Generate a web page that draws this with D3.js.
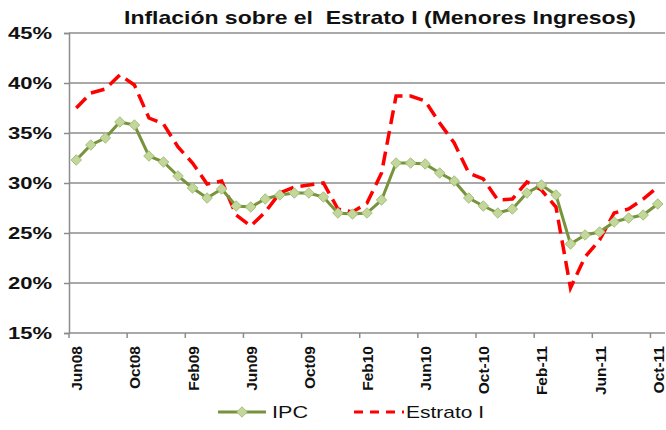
<!DOCTYPE html>
<html>
<head>
<meta charset="utf-8">
<script src="https://cdn.jsdelivr.net/npm/d3@7"></script>
<style>
  body { margin: 0; background: #fff; }
  text { font-family: "Liberation Sans", Arial, sans-serif; }
</style>
</head>
<body>
<svg id="chart" width="666" height="430"></svg>
<script>
// monthly categories Jun08 .. Oct11
const months = [
  "Jun08","Jul08","Aug08","Sep08","Oct08","Nov08","Dec08","Jan09","Feb09","Mar09","Apr09","May09",
  "Jun09","Jul09","Aug09","Sep09","Oct09","Nov09","Dec09","Jan10","Feb10","Mar10","Apr10","May10",
  "Jun10","Jul10","Aug10","Sep10","Oct-10","Nov-10","Dec-10","Jan-11","Feb-11","Mar-11","Apr-11","May-11",
  "Jun-11","Jul-11","Aug-11","Sep-11","Oct-11"
];
const shownLabels = ["Jun08","Oct08","Feb09","Jun09","Oct09","Feb10","Jun10","Oct-10","Feb-11","Jun-11","Oct-11"];

const ipc = [
  32.3, 33.8, 34.5, 36.1, 35.8, 32.7, 32.1, 30.7, 29.5, 28.5, 29.4, 27.7,
  27.6, 28.4, 28.8, 29.0, 29.0, 28.6, 27.0, 26.9, 27.0, 28.3, 32.0, 32.0,
  31.9, 31.0, 30.2, 28.5, 27.7, 27.0, 27.4, 29.0, 29.8, 28.8, 23.9, 24.8,
  25.1, 26.1, 26.5, 26.8, 27.9
];
const estrato1 = [
  37.5, 39.0, 39.4, 40.8, 39.8, 36.5, 35.9, 33.6, 32.0, 29.9, 30.2, 26.8,
  25.7, 27.1, 29.0, 29.6, 29.8, 30.0, 27.4, 27.1, 28.0, 31.0, 38.7, 38.7,
  38.2, 36.0, 34.0, 31.0, 30.4, 28.3, 28.4, 30.1, 29.3, 27.6, 19.5, 22.6,
  24.3, 27.0, 27.4, 28.4, 29.6
];
const yTicks = [15, 20, 25, 30, 35, 40, 45];

const svg = d3.select("#chart");
const mLeft = 69, mRight = 665, mTop = 33, mBottom = 333;

const x = d3.scaleBand().domain(months).range([mLeft, mRight]).padding(0);
const y = d3.scaleLinear().domain([15, 45]).range([mBottom, mTop]);
const cx = (m) => x(m) + x.bandwidth() / 2;

// title (the original is a bit stretched sideways)
svg.append("text")
  .attr("x", 124).attr("y", 24)
  .attr("font-size", 19).attr("font-weight", "bold")
  .attr("fill", "#111")
  .attr("textLength", 512).attr("lengthAdjust", "spacingAndGlyphs")
  .style("white-space", "pre")
  .text("Inflación sobre el  Estrato I (Menores Ingresos)");

// gridlines
svg.append("g")
  .selectAll("line")
  .data(yTicks.filter((d) => d > 15))
  .join("line")
  .attr("x1", mLeft).attr("x2", mRight)
  .attr("y1", (d) => y(d)).attr("y2", (d) => y(d))
  .attr("stroke", "#8c8c8c").attr("stroke-width", 1.5);

// y axis
const yAxis = svg.append("g")
  .attr("transform", `translate(${mLeft},0)`)
  .call(d3.axisLeft(y).tickValues(yTicks).tickSize(5).tickFormat((d) => d + "%"));
yAxis.select(".domain").attr("stroke", "#8c8c8c").attr("stroke-width", 1.5);
yAxis.selectAll(".tick line").attr("stroke", "#8c8c8c").attr("stroke-width", 1.5);
yAxis.selectAll(".tick text")
  .attr("x", -17).attr("dy", "0.36em")
  .attr("font-size", 16).attr("font-weight", "bold")
  .attr("fill", "#111")
  .attr("textLength", 44).attr("lengthAdjust", "spacingAndGlyphs")
  .style("font-family", "Liberation Sans, Arial, sans-serif");

// x axis: ticks every 4 categories at band edges
const tickMonths = months.filter((d, i) => i % 4 === 0);
svg.append("line")
  .attr("x1", mLeft).attr("x2", mRight)
  .attr("y1", mBottom).attr("y2", mBottom)
  .attr("stroke", "#8c8c8c").attr("stroke-width", 1.5);
svg.append("g")
  .selectAll("line")
  .data(tickMonths)
  .join("line")
  .attr("x1", (d) => x(d)).attr("x2", (d) => x(d))
  .attr("y1", mBottom).attr("y2", mBottom + 5)
  .attr("stroke", "#8c8c8c").attr("stroke-width", 1.5);
svg.append("g")
  .selectAll("text")
  .data(tickMonths)
  .join("text")
  .attr("transform", (d) => `translate(${cx(d) + 6},${mBottom + 13}) rotate(-90)`)
  .attr("text-anchor", "end")
  .attr("font-size", 15.5).attr("font-weight", "bold")
  .attr("fill", "#111")
  .text((d, i) => shownLabels[i]);

// series
const line = d3.line()
  .x((d, i) => cx(months[i]))
  .y((d) => y(d));

svg.append("path")
  .datum(estrato1)
  .attr("fill", "none")
  .attr("stroke", "#ff0000")
  .attr("stroke-width", 3.5)
  .attr("stroke-dasharray", "14,7")
  .attr("d", line);

svg.append("path")
  .datum(ipc)
  .attr("fill", "none")
  .attr("stroke", "#77933c")
  .attr("stroke-width", 3)
  .attr("d", line);

const diamond = d3.symbol().type(d3.symbolDiamond2).size(70);
svg.append("g")
  .selectAll("path")
  .data(ipc)
  .join("path")
  .attr("transform", (d, i) => `translate(${cx(months[i])},${y(d)})`)
  .attr("d", diamond)
  .attr("fill", "#c3d69b")
  .attr("stroke", "#a6c07a")
  .attr("stroke-width", 1);

// legend
const lg = svg.append("g").attr("transform", "translate(0,412)");
lg.append("line").attr("x1", 218).attr("x2", 266).attr("y1", 0).attr("y2", 0)
  .attr("stroke", "#77933c").attr("stroke-width", 3);
lg.append("path").attr("transform", "translate(242,0)").attr("d", diamond)
  .attr("fill", "#c3d69b").attr("stroke", "#a6c07a");
lg.append("text").attr("x", 272).attr("y", 6).attr("font-size", 17).attr("fill", "#111")
  .attr("textLength", 36).attr("lengthAdjust", "spacingAndGlyphs").text("IPC");
lg.append("line").attr("x1", 354).attr("x2", 404).attr("y1", 0).attr("y2", 0)
  .attr("stroke", "#ff0000").attr("stroke-width", 3).attr("stroke-dasharray", "9,7");
lg.append("text").attr("x", 406).attr("y", 6).attr("font-size", 17).attr("fill", "#111")
  .attr("textLength", 78).attr("lengthAdjust", "spacingAndGlyphs").text("Estrato I");
</script>
</body>
</html>
